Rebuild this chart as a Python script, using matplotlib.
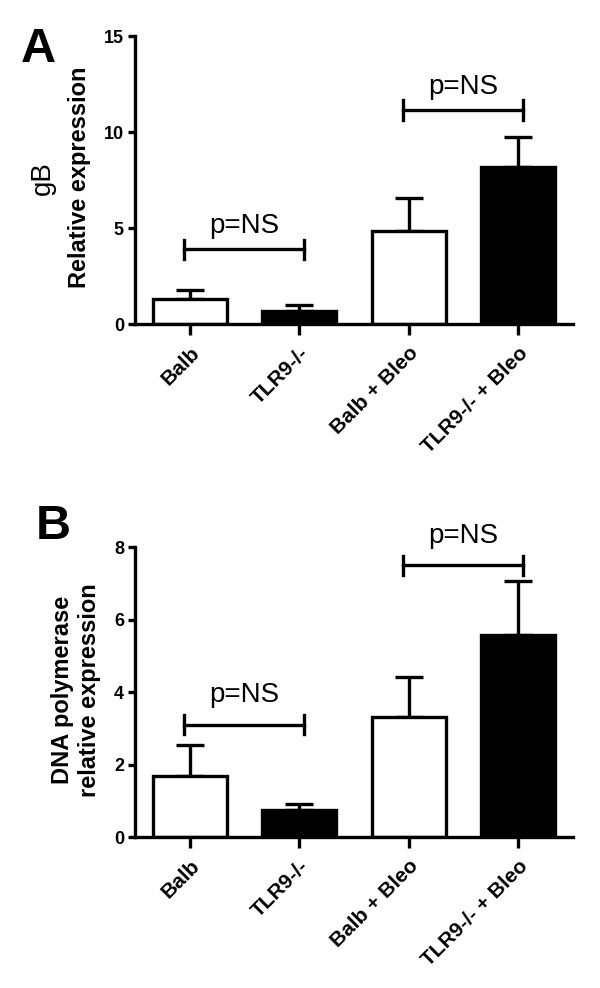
import numpy as np
import matplotlib.pyplot as plt

plt.rcParams['font.family'] = ['Liberation Sans', 'DejaVu Sans']

groups = ['Balb', 'TLR9-/-', 'Balb + Bleo', 'TLR9-/- + Bleo']
colors = ['white', 'black', 'white', 'black']

gb_mean = [1.3, 0.7, 4.85, 8.2]
gb_err = [0.5, 0.3, 1.7, 1.55]
gb_brackets = [(0, 1, 3.9), (2, 3, 11.15)]

pol_mean = [1.68, 0.75, 3.32, 5.57]
pol_err = [0.87, 0.15, 1.1, 1.49]
pol_brackets = [(0, 1, 3.1), (2, 3, 7.5)]

LW = 2.4


def panel(ax, means, errs, brackets, ymax, step, cap_h, txt_off):
    x = np.arange(len(groups))
    ax.bar(x, means, width=0.68, color=colors, edgecolor='black', linewidth=LW, zorder=2)
    ax.errorbar(x, means, yerr=[np.zeros(len(errs)), errs], fmt='none', ecolor='black',
                elinewidth=LW, capsize=10, capthick=LW, zorder=1)
    for a, b, y in brackets:
        x0, x1 = a - 0.05, b + 0.04
        ax.plot([x0, x1], [y, y], color='black', lw=LW, clip_on=False)
        for xx in (x0, x1):
            ax.plot([xx, xx], [y - cap_h, y + cap_h], color='black', lw=LW, clip_on=False)
        ax.text((x0 + x1) / 2, y + txt_off, 'p=NS', ha='center', va='baseline', fontsize=20,
                clip_on=False)
    ax.set_xlim(-0.5, 3.5)
    ax.set_ylim(0, ymax)
    ax.set_yticks(np.arange(0, ymax + 0.1, step))
    ax.set_xticks(x)
    ax.set_xticklabels(groups, rotation=45, ha='right', rotation_mode='anchor',
                       fontweight='bold', fontsize=15)
    for lab in ax.get_yticklabels():
        lab.set_fontweight('bold')
        lab.set_fontsize(13)
    for s in ('top', 'right'):
        ax.spines[s].set_visible(False)
    for s in ('left', 'bottom'):
        ax.spines[s].set_linewidth(LW)
    ax.tick_params(axis='y', width=LW, length=5, pad=3)
    ax.tick_params(axis='x', width=LW, length=8, pad=6)


fig = plt.figure(figsize=(6, 9.88), dpi=100)

ax1 = fig.add_axes([0.225, 0.672, 0.73, 0.2915])
panel(ax1, gb_mean, gb_err, gb_brackets, 15, 5, 0.5, 0.85)
ax1.set_ylabel('Relative expression', fontweight='bold', fontsize=17)
ax1.yaxis.set_label_coords(-0.1, 0.51)
fig.text(0.072, 0.82, 'gB', rotation=90, fontsize=20, ha='center', va='center')
fig.text(0.035, 0.95, 'A', fontsize=35, fontweight='bold', ha='left', va='center')

ax2 = fig.add_axes([0.225, 0.1528, 0.73, 0.2935])
panel(ax2, pol_mean, pol_err, pol_brackets, 8, 2, 0.26, 0.62)
ax2.set_ylabel('DNA polymerase\nrelative expression', fontweight='bold', fontsize=17,
               linespacing=1.2)
ax2.yaxis.set_label_coords(-0.078, 0.507)
fig.text(0.06, 0.467, 'B', fontsize=35, fontweight='bold', ha='left', va='center')

fig.savefig('out.png', dpi=100)
